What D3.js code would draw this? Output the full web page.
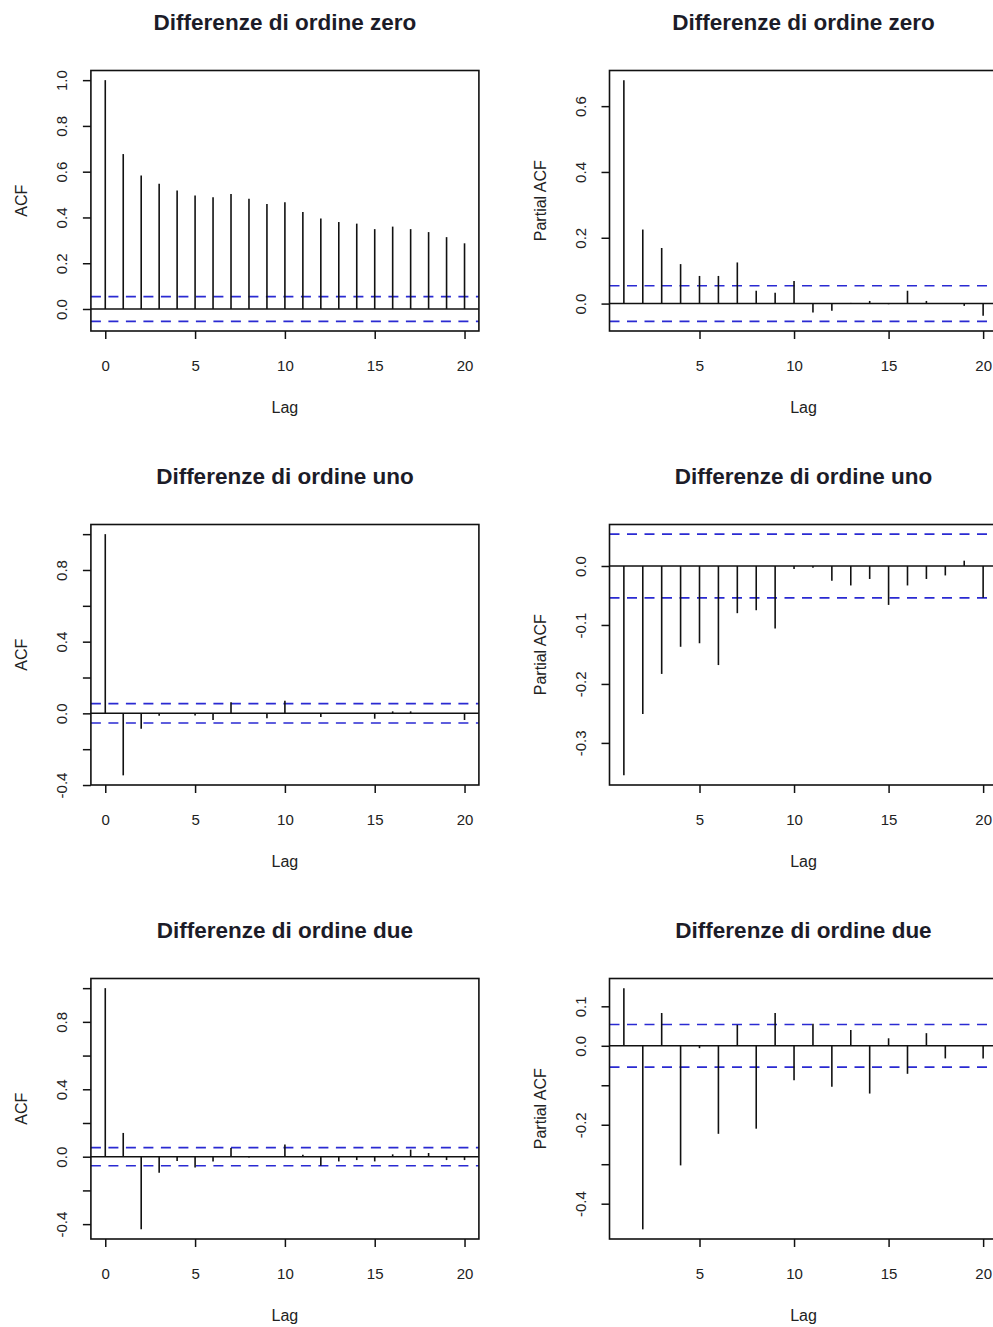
<!DOCTYPE html>
<html>
<head>
<meta charset="utf-8">
<script src="https://cdn.jsdelivr.net/npm/d3@7"></script>
<style>
  body { margin: 0; background: #fff; }
  svg { display: block; }
  text { font-family: "Liberation Sans", Arial, sans-serif; fill: #222; }
</style>
</head>
<body>
<svg id="chart" width="993" height="1327"></svg>
<script>
// Lags used by the correlograms
const lagsAcf = d3.range(0, 21);
const lagsPacf = d3.range(1, 21);

// Autocorrelations of the series (levels, first and second differences)
const acfZero = [1.0, 0.677, 0.583, 0.547, 0.518, 0.496, 0.488, 0.503, 0.482, 0.459, 0.466,
                 0.424, 0.395, 0.380, 0.373, 0.349, 0.360, 0.349, 0.336, 0.314, 0.287];
const pacfZero = [0.679, 0.225, 0.169, 0.120, 0.084, 0.084, 0.125, 0.039, 0.033, 0.069,
                  -0.027, -0.022, 0.002, 0.008, -0.002, 0.039, 0.008, 0.001, -0.007, -0.037];

const acfOne = [1.0, -0.346, -0.086, -0.013, -0.003, -0.012, -0.037, 0.062, 0.002, -0.028, 0.070,
                0.002, -0.020, 0.001, -0.002, -0.030, 0.011, 0.011, 0.001, -0.001, -0.037];
const pacfOne = [-0.355, -0.251, -0.183, -0.137, -0.131, -0.168, -0.080, -0.075, -0.106, -0.005,
                 -0.003, -0.025, -0.033, -0.022, -0.066, -0.033, -0.022, -0.016, 0.009, -0.054];

const acfTwo = [1.0, 0.141, -0.431, -0.095, -0.025, -0.064, -0.028, 0.052, -0.005, 0.004, 0.072,
                0.012, -0.054, -0.028, -0.020, -0.028, 0.014, 0.042, 0.022, -0.020, -0.020];
const pacfTwo = [0.146, -0.465, 0.083, -0.303, -0.006, -0.223, 0.053, -0.210, 0.083, -0.087,
                 0.056, -0.104, 0.040, -0.121, 0.019, -0.071, 0.032, -0.032, 0.002, -0.032];

// Approximate 95% band for white noise
const confLimit = 0.054;

// Titles and axis labels
const titles = ["Differenze di ordine zero", "Differenze di ordine uno", "Differenze di ordine due"];
const xLabel = "Lag";
const yLabelAcf = "ACF";
const yLabelPacf = "Partial ACF";

// Tick values and labels (blank entries are unlabelled ticks)
const xTicksAcf = [0, 5, 10, 15, 20];
const xTicksPacf = [5, 10, 15, 20];

const yTicksAcfZero = [0, 0.2, 0.4, 0.6, 0.8, 1.0];
const yLabelsAcfZero = ["0.0", "0.2", "0.4", "0.6", "0.8", "1.0"];
const yTicksPacfZero = [0, 0.2, 0.4, 0.6];
const yLabelsPacfZero = ["0.0", "0.2", "0.4", "0.6"];

const yTicksAcfOne = [-0.4, -0.2, 0, 0.2, 0.4, 0.6, 0.8, 1.0];
const yLabelsAcfOne = ["-0.4", "", "0.0", "", "0.4", "", "0.8", ""];
const yTicksPacfOne = [-0.3, -0.2, -0.1, 0];
const yLabelsPacfOne = ["-0.3", "-0.2", "-0.1", "0.0"];

const yTicksAcfTwo = [-0.4, -0.2, 0, 0.2, 0.4, 0.6, 0.8, 1.0];
const yLabelsAcfTwo = ["-0.4", "", "0.0", "", "0.4", "", "0.8", ""];
const yTicksPacfTwo = [-0.4, -0.3, -0.2, -0.1, 0, 0.1];
const yLabelsPacfTwo = ["-0.4", "", "-0.2", "", "0.0", "0.1"];

// Panel layout (3 rows x 2 columns)
const colLeft = [90.9, 609.5];
const rowTop = [70.5, 524.5, 978.5];
const plotW = 388;
const plotH = 260.5;

const panels = [
  { row: 0, col: 0, lags: lagsAcf,  values: acfZero,  xTicks: xTicksAcf,  yTicks: yTicksAcfZero,  yLabels: yLabelsAcfZero,  ylab: yLabelAcf },
  { row: 0, col: 1, lags: lagsPacf, values: pacfZero, xTicks: xTicksPacf, yTicks: yTicksPacfZero, yLabels: yLabelsPacfZero, ylab: yLabelPacf },
  { row: 1, col: 0, lags: lagsAcf,  values: acfOne,   xTicks: xTicksAcf,  yTicks: yTicksAcfOne,   yLabels: yLabelsAcfOne,   ylab: yLabelAcf },
  { row: 1, col: 1, lags: lagsPacf, values: pacfOne,  xTicks: xTicksPacf, yTicks: yTicksPacfOne,  yLabels: yLabelsPacfOne,  ylab: yLabelPacf },
  { row: 2, col: 0, lags: lagsAcf,  values: acfTwo,   xTicks: xTicksAcf,  yTicks: yTicksAcfTwo,   yLabels: yLabelsAcfTwo,   ylab: yLabelAcf },
  { row: 2, col: 1, lags: lagsPacf, values: pacfTwo,  xTicks: xTicksPacf, yTicks: yTicksPacfTwo,  yLabels: yLabelsPacfTwo,  ylab: yLabelPacf }
];

// Range padded by 4% on each side, like the default axis style of the plots
function padded(extent) {
  const d = (extent[1] - extent[0]) * 0.04;
  return [extent[0] - d, extent[1] + d];
}

const svg = d3.select("#chart");

panels.forEach(p => {
  const left = colLeft[p.col];
  const top = rowTop[p.row];
  const g = svg.append("g").attr("transform", `translate(${left},${top})`);

  const x = d3.scaleLinear().domain(padded(d3.extent(p.lags))).range([0, plotW]);
  const yExt = d3.extent(p.values.concat([confLimit, -confLimit]));
  const y = d3.scaleLinear().domain(padded(yExt)).range([plotH, 0]);

  // confidence band
  [confLimit, -confLimit].forEach(c => {
    g.append("line")
      .attr("x1", 0).attr("x2", plotW)
      .attr("y1", y(c)).attr("y2", y(c))
      .attr("stroke", "#2a2ad2").attr("stroke-width", 1.6)
      .attr("stroke-dasharray", "10,7.5");
  });

  // zero line
  g.append("line")
    .attr("x1", 0).attr("x2", plotW)
    .attr("y1", y(0)).attr("y2", y(0))
    .attr("stroke", "#111").attr("stroke-width", 1.5);

  // stems
  g.selectAll("line.stem")
    .data(p.lags.map((l, i) => ({ lag: l, v: p.values[i] })))
    .join("line")
    .attr("class", "stem")
    .attr("x1", d => x(d.lag)).attr("x2", d => x(d.lag))
    .attr("y1", y(0)).attr("y2", d => y(d.v))
    .attr("stroke", "#111").attr("stroke-width", 1.6);

  // frame
  g.append("rect")
    .attr("x", 0).attr("y", 0).attr("width", plotW).attr("height", plotH)
    .attr("fill", "none").attr("stroke", "#111").attr("stroke-width", 1.6);

  // x axis
  const xAxis = g.append("g")
    .attr("transform", `translate(0,${plotH})`)
    .call(d3.axisBottom(x).tickValues(p.xTicks).tickSize(8).tickFormat(d3.format("d")));
  xAxis.select(".domain").remove();
  xAxis.selectAll(".tick line").attr("stroke", "#111").attr("stroke-width", 1.5);
  xAxis.selectAll(".tick text")
    .attr("y", 40).attr("dy", null)
    .style("font-size", "15px").style("fill", "#222");

  // y axis
  const yAxis = g.append("g")
    .call(d3.axisLeft(y).tickValues(p.yTicks).tickSize(8)
      .tickFormat((d, i) => p.yLabels[i]));
  yAxis.select(".domain").remove();
  yAxis.selectAll(".tick line").attr("stroke", "#111").attr("stroke-width", 1.5);
  yAxis.selectAll(".tick text")
    .attr("x", null).attr("dy", null)
    .attr("text-anchor", "middle")
    .attr("transform", "translate(-24,0) rotate(-90)")
    .style("font-size", "15px").style("fill", "#222");

  // axis titles
  g.append("text")
    .attr("x", plotW / 2).attr("y", plotH + 82)
    .attr("text-anchor", "middle")
    .style("font-size", "16px")
    .text(xLabel);

  g.append("text")
    .attr("transform", `translate(-64,${plotH / 2}) rotate(-90)`)
    .attr("text-anchor", "middle")
    .style("font-size", "16px")
    .text(p.ylab);

  // panel title
  g.append("text")
    .attr("x", plotW / 2).attr("y", -41)
    .attr("text-anchor", "middle")
    .style("font-size", "22.5px").style("font-weight", "bold")
    .style("fill", "#1c1c28")
    .text(titles[p.row]);
});
</script>
</body>
</html>
